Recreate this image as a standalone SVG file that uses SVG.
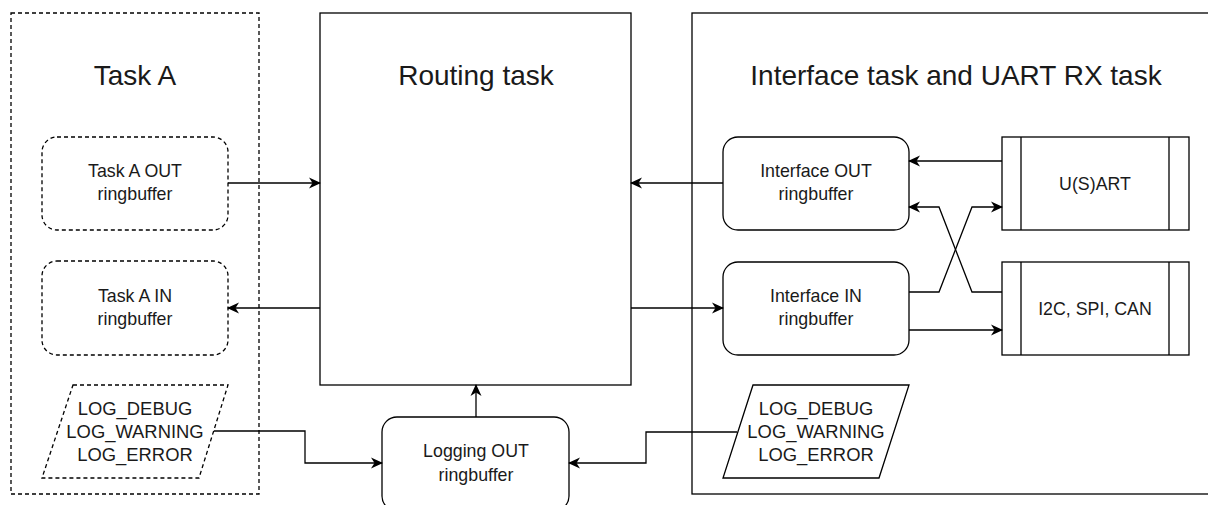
<svg xmlns="http://www.w3.org/2000/svg" width="1208" height="505" viewBox="0 0 1208 505">
<defs>
<marker id="arr" viewBox="0 0 12 12" refX="11" refY="6" markerWidth="12" markerHeight="12" markerUnits="userSpaceOnUse" orient="auto">
<path d="M0,0.5 L12,6 L0,11.5 L3.5,6 z" fill="#000"/>
</marker>
<style>
.box{fill:#fff;stroke:#000;stroke-width:1.3}
.dash{fill:#fff;stroke:#000;stroke-width:1.3;stroke-dasharray:4 3}
.t{font-family:"Liberation Sans",Arial,sans-serif;fill:#1a1a1a;text-anchor:middle}
.title{font-size:28px}
.lbl{font-size:17.8px}
.log{font-size:18.4px}
.c{fill:none;stroke:#000;stroke-width:1.3;marker-end:url(#arr)}
.cn{fill:none;stroke:#000;stroke-width:1.3}
</style>
</defs>
<rect width="1208" height="505" fill="#fff"/>
<g id="task-a">
<rect class="dash" x="11" y="13" width="248" height="481"/>
<text class="t title" x="135" y="85">Task A</text>
</g>
<g id="routing-task">
<rect class="box" x="320" y="13" width="311" height="372"/>
<text class="t title" x="476" y="85">Routing task</text>
</g>
<g id="interface-task">
<rect class="box" x="692" y="13" width="530" height="481"/>
<text class="t title" x="956" y="85">Interface task and UART RX task</text>
</g>
<g id="task-a-out">
<rect class="dash" x="42" y="137" width="186" height="93" rx="15"/>
<text class="t lbl" x="135" y="177">Task A OUT</text>
<text class="t lbl" x="135" y="200">ringbuffer</text>
</g>
<g id="task-a-in">
<rect class="dash" x="42" y="261" width="186" height="94" rx="15"/>
<text class="t lbl" x="135" y="301.5">Task A IN</text>
<text class="t lbl" x="135" y="324.5">ringbuffer</text>
</g>
<g id="log-left">
<polygon class="dash" points="73,385 228,385 199,478 42,478"/>
<text class="t log" x="135" y="415">LOG_DEBUG</text>
<text class="t log" x="135" y="438">LOG_WARNING</text>
<text class="t log" x="135" y="461">LOG_ERROR</text>
</g>
<g id="interface-out">
<rect class="box" x="723" y="137" width="186" height="93" rx="15"/>
<text class="t lbl" x="816" y="177">Interface OUT</text>
<text class="t lbl" x="816" y="200">ringbuffer</text>
</g>
<g id="interface-in">
<rect class="box" x="723" y="262" width="186" height="93" rx="15"/>
<text class="t lbl" x="816" y="302">Interface IN</text>
<text class="t lbl" x="816" y="325">ringbuffer</text>
</g>
<g id="usart">
<rect class="box" x="1002" y="137" width="187" height="93"/>
<line class="cn" x1="1021" y1="137" x2="1021" y2="230"/>
<line class="cn" x1="1169" y1="137" x2="1169" y2="230"/>
<text class="t lbl" x="1095" y="189.5">U(S)ART</text>
</g>
<g id="i2c-spi-can">
<rect class="box" x="1002" y="262" width="187" height="93"/>
<line class="cn" x1="1021" y1="262" x2="1021" y2="355"/>
<line class="cn" x1="1169" y1="262" x2="1169" y2="355"/>
<text class="t lbl" x="1095" y="314.5">I2C, SPI, CAN</text>
</g>
<g id="log-right">
<polygon class="box" points="753,385 909,385 879,478 723,478"/>
<text class="t log" x="816" y="415">LOG_DEBUG</text>
<text class="t log" x="816" y="438">LOG_WARNING</text>
<text class="t log" x="816" y="461">LOG_ERROR</text>
</g>
<g id="logging-out">
<rect class="box" x="382" y="417" width="187" height="94" rx="15"/>
<text class="t lbl" x="476" y="457">Logging OUT</text>
<text class="t lbl" x="476" y="481">ringbuffer</text>
</g>
<g id="connectors">
<path class="c" d="M228,183 L320,183"/>
<path class="c" d="M320,308 L228,308"/>
<path class="c" d="M723,183 L631,183"/>
<path class="c" d="M631,308 L723,308"/>
<path class="c" d="M1002,161 L909,161"/>
<path class="c" d="M1002,292 L972,292 L939,207 L909,207"/>
<path class="c" d="M909,292 L939,292 L972,207 L1002,207"/>
<path class="c" d="M909,330 L1002,330"/>
<path class="c" d="M476,417 L476,385"/>
<path class="c" d="M214,431 L305,431 L305,463 L382,463"/>
<path class="c" d="M737,432 L646,432 L646,463 L569,463"/>
</g>
</svg>
